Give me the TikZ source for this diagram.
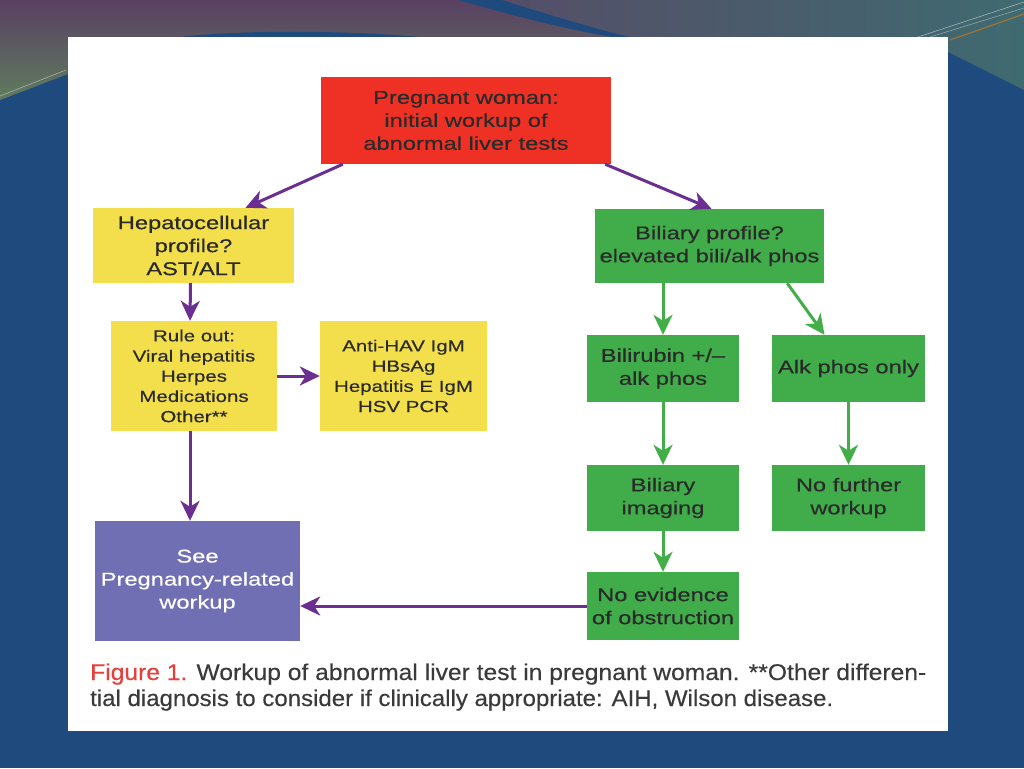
\documentclass[tikz,border=0pt]{standalone}
\usepackage{fontspec}
\setmainfont{Liberation Sans}
\newfontfamily\boxfont[FakeStretch=1.28,FakeBold=0.35]{Liberation Sans}
\newfontfamily\capfont[FakeBold=0.3]{Liberation Sans}
\usetikzlibrary{arrows.meta}
\definecolor{bgblue}{HTML}{1F4A7D}
\definecolor{topPurple}{HTML}{5A4062}
\definecolor{topGreen}{HTML}{5E7C5E}
\definecolor{topTealL}{HTML}{554E68}
\definecolor{topTealR}{HTML}{3F6A70}
\definecolor{boxred}{HTML}{EE3124}
\definecolor{boxyellow}{HTML}{F3DF4B}
\definecolor{boxgreen}{HTML}{40AD4A}
\definecolor{boxpurple}{HTML}{716FB3}
\definecolor{arrpurple}{HTML}{6B2E91}
\definecolor{arrgreen}{HTML}{41AE48}
\definecolor{boxtext}{HTML}{2A2A2A}
\definecolor{capred}{HTML}{E5403A}
\definecolor{captext}{HTML}{3A3A3A}
\tikzset{
  box/.style={rectangle, inner sep=0pt, align=center, text=boxtext,
    font=\boxfont\fontsize{18.5}{23}\selectfont},
  smallbox/.style={box, font=\boxfont\fontsize{16}{20.2}\selectfont},
  ybox/.style={box, fill=boxyellow},
  gbox/.style={box, fill=boxgreen},
  parr/.style={draw=arrpurple, line width=3pt, -{Stealth[length=20pt,width=19pt,inset=6pt]}},
  garr/.style={draw=arrgreen, line width=3pt, -{Stealth[length=20pt,width=19pt,inset=6pt]}}
}
\begin{document}
\begin{tikzpicture}[x=1pt,y=-1pt]
\useasboundingbox (0,0) rectangle (1024,768);
% background
\fill[bgblue] (0,0) rectangle (1024,768);
\shade[top color=topPurple, bottom color=topGreen]
  (0,0) -- (458,0) .. controls (520,18) and (575,31) .. (612,37) -- (68,37) -- (68,74) -- (0,100) -- cycle;
\fill[bgblue] (180,37) .. controls (240,30) and (340,30) .. (420,37) -- cycle;
\shade[left color=topTealL, right color=topTealR]
  (502,0) .. controls (560,18) and (600,30) .. (630,37) -- (948,37) -- (948,52) -- (1024,90) -- (1024,0) -- cycle;
\draw[white, opacity=.45, line width=.6pt] (0,96) -- (66,70);
\draw[white, opacity=.5, line width=.6pt] (918,37) -- (1024,2);
\draw[white, opacity=.4, line width=.6pt] (930,37) -- (1024,8);
\draw[orange, opacity=.5, line width=1.2pt] (950,40) -- (1024,14);
% panel
\fill[white] (68,37) rectangle (948,731);
% nodes
\node[box, fill=boxred, minimum width=290pt, minimum height=87pt] (red) at (466,120.5)
  {Pregnant woman:\\initial workup of\\abnormal liver tests};
\node[ybox, minimum width=201pt, minimum height=75pt] (hep) at (193.5,245.5)
  {Hepatocellular\\profile?\\AST/ALT};
\node[smallbox, fill=boxyellow, minimum width=166pt, minimum height=110pt] (rule) at (194,376)
  {Rule out:\\Viral hepatitis\\Herpes\\Medications\\Other**};
\node[smallbox, fill=boxyellow, minimum width=167pt, minimum height=110pt] (anti) at (403.5,376)
  {Anti-HAV IgM\\HBsAg\\Hepatitis E IgM\\HSV PCR};
\node[gbox, minimum width=229pt, minimum height=74pt] (bil) at (709.5,246)
  {Biliary profile?\\elevated bili/alk phos};
\node[gbox, minimum width=152pt, minimum height=67pt] (bili) at (663,368.5)
  {Bilirubin +/–\\alk phos};
\node[gbox, minimum width=153pt, minimum height=67pt] (alk) at (848.5,368.5)
  {Alk phos only};
\node[gbox, minimum width=152pt, minimum height=66pt] (img) at (663,498)
  {Biliary\\imaging};
\node[gbox, minimum width=153pt, minimum height=66pt] (nofur) at (848.5,498)
  {No further\\workup};
\node[gbox, minimum width=152pt, minimum height=68pt] (noev) at (663,606)
  {No evidence\\of obstruction};
\node[box, fill=boxpurple, text=white, minimum width=205pt, minimum height=120pt] (see) at (197.5,581)
  {See\\Pregnancy-related\\workup};
% arrows
\draw[parr] ([xshift=22pt]red.south west) -- ([xshift=52pt]hep.north);
\draw[parr] ([xshift=-6pt]red.south east) -- ([xshift=2pt]bil.north);
\draw[parr] ([xshift=-3pt]hep.south) -- ([xshift=-4pt]rule.north);
\draw[parr] (rule.east) -- (anti.west);
\draw[parr] ([xshift=-4pt]rule.south) -- ([xshift=-4pt]rule.south |- see.north);
\draw[parr] (noev.west) -- (see.east |- noev.west);
\draw[garr] (bili.north |- bil.south) -- (bili.north);
\draw[garr] ([xshift=-37pt]bil.south east) -- ([xshift=-24pt]alk.north);
\draw[garr] (bili.south) -- (img.north);
\draw[garr] (alk.south) -- (nofur.north);
\draw[garr] (img.south) -- (noev.north);
% caption
\node[anchor=base west, inner sep=0pt, text=captext] (cap1) at (90,680)
  {\resizebox{836pt}{16.5pt}{\capfont{\color{capred}Figure 1.} Workup of abnormal liver test in pregnant woman. **Other differen-}};
\node[anchor=base west, inner sep=0pt, text=captext] (cap2) at (90,706)
  {\resizebox{743pt}{16.5pt}{\capfont tial diagnosis to consider if clinically appropriate: AIH, Wilson disease.}};
\end{tikzpicture}
\end{document}
